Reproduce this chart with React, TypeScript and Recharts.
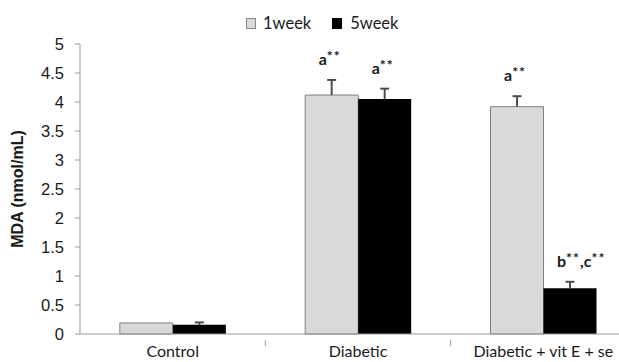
import React from 'react';
import { BarChart, Bar, XAxis, YAxis, LabelList } from 'recharts';

const groups = ['Control', 'Diabetic', 'Diabetic + vit E + se'];
const week1 = [0.19, 4.12, 3.92];
const week5 = [0.16, 4.05, 0.79];
const week1Err = [0, 0.26, 0.18];
const week5Err = [0.04, 0.18, 0.11];
const week1Marks = ['', 'a**', 'a**'];
const week5Marks = ['', 'a**', 'b**,c**'];
const yTicks = [0, 0.5, 1, 1.5, 2, 2.5, 3, 3.5, 4, 4.5, 5];

const data = groups.map((name, i) => ({ name, w1: week1[i], w5: week5[i] }));

const VIEW_W = 619;
const HEIGHT = 362;
const CHART_W = 636; // plot runs past the right edge, like the cropped original
const Y_AXIS_W = 80;
const BAND = (CHART_W - Y_AXIS_W) / groups.length;

const CategoryTick = (props: any) => {
  const { x, y, payload, index } = props;
  return (
    <g>
      {index > 0 && (
        <line x1={x - BAND / 2} x2={x - BAND / 2} y1={y - 2} y2={y + 4} stroke="#999" />
      )}
      <text x={x} y={y + 15} textAnchor="middle" fontFamily="Lato" fontSize={16} fill="#1a1a1a">
        {payload.value}
      </text>
    </g>
  );
};

// whisker (upper half only) plus the significance letters above it
const makeTop = (values: number[], errs: number[], marks: string[]) => (props: any) => {
  const { x, y, width, height, index } = props;
  const v = values[index];
  const e = errs[index];
  const cx = x + width / 2;
  const errTop = v > 0 ? y - (e * height) / v : y;
  const mark = marks[index];
  const parts = mark ? mark.split(/(\*\*)/).filter(Boolean) : [];
  return (
    <g>
      {e > 0 && (
        <g stroke="#4d4d4d" strokeWidth={2}>
          <line x1={cx} x2={cx} y1={y} y2={errTop} />
          <line x1={cx - 4.5} x2={cx + 4.5} y1={errTop} y2={errTop} />
        </g>
      )}
      {mark && (
        <text x={cx - 13} y={errTop - 15} fontFamily="Lato" fontWeight="bold" fontSize={16} fill="#1a1a1a">
          {parts.map((p, i) =>
            p === '**' ? (
              <tspan key={i} fontSize={14} dy={-4} letterSpacing={1}>{p}</tspan>
            ) : (
              <tspan key={i} dy={i > 0 ? 4 : 0}>{p}</tspan>
            )
          )}
        </text>
      )}
    </g>
  );
};

const Top1 = makeTop(week1, week1Err, week1Marks);
const Top5 = makeTop(week5, week5Err, week5Marks);

export default function App() {
  return (
    <div style={{ position: 'absolute', left: 0, top: 0, width: VIEW_W, height: HEIGHT, overflow: 'hidden', background: '#fff' }}>
      <div
        style={{
          position: 'absolute', top: 13, left: 246, display: 'flex', alignItems: 'center',
          fontFamily: 'Lato', fontSize: 16.5, color: '#1a1a1a', lineHeight: '20px',
        }}
      >
        <span style={{ width: 8, height: 9, background: '#d9d9d9', border: '1px solid #888', marginRight: 7 }} />
        <span style={{ marginRight: 21 }}>1week</span>
        <span style={{ width: 10, height: 11, background: '#000', marginRight: 8 }} />
        <span>5week</span>
      </div>
      <BarChart
        width={CHART_W}
        height={HEIGHT}
        data={data}
        margin={{ top: 44, right: 0, bottom: 0, left: 0 }}
        barGap={0}
        barCategoryGap="21.5%"
      >
        <XAxis
          dataKey="name"
          height={28}
          axisLine={{ stroke: '#999' }}
          tickLine={false}
          tick={<CategoryTick />}
          interval={0}
        />
        <YAxis
          width={Y_AXIS_W}
          domain={[0, 5]}
          ticks={yTicks}
          interval={0}
          axisLine={{ stroke: '#999' }}
          tickLine={{ stroke: '#999' }}
          tickSize={5}
          tickMargin={11}
          tick={{ fontFamily: 'Liberation Sans', fontSize: 16.5, fill: '#1a1a1a' }}
          label={{
            value: 'MDA (nmol/mL)', angle: -90, position: 'insideLeft', dx: 12, dy: 0,
            style: { fontFamily: 'Liberation Sans', fontSize: 16, fontWeight: 'bold', fill: '#1a1a1a', textAnchor: 'middle' },
          }}
        />
        <Bar dataKey="w1" fill="#d9d9d9" stroke="#808080" strokeWidth={1} isAnimationActive={false}>
          <LabelList dataKey="w1" content={<Top1 />} />
        </Bar>
        <Bar dataKey="w5" fill="#000" isAnimationActive={false}>
          <LabelList dataKey="w5" content={<Top5 />} />
        </Bar>
      </BarChart>
    </div>
  );
}
